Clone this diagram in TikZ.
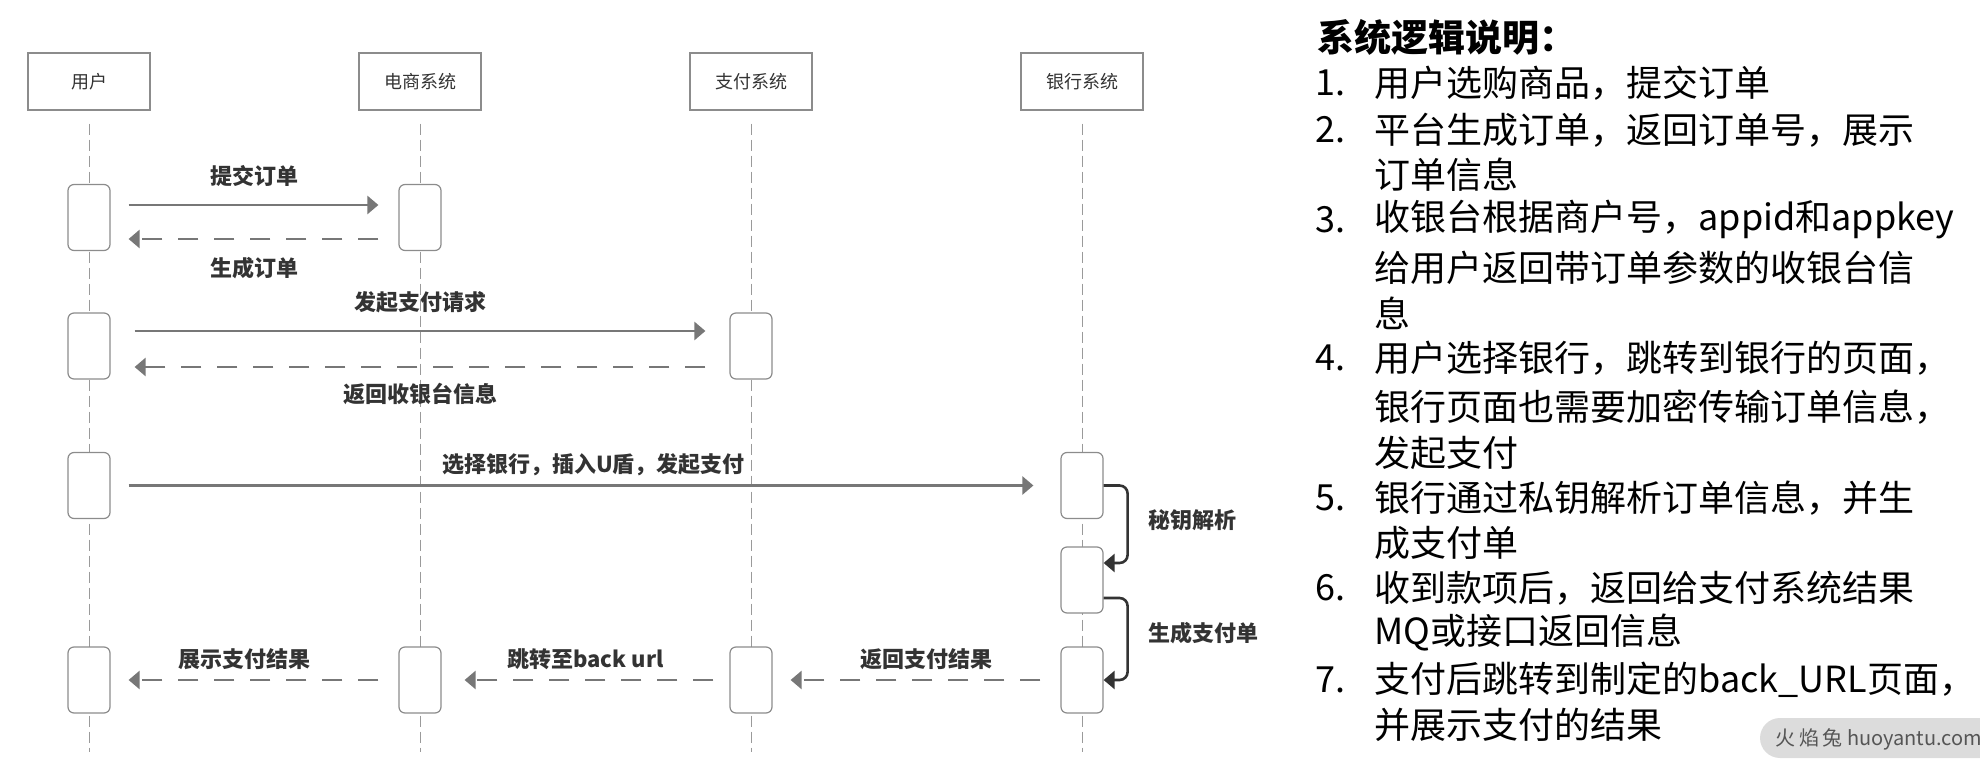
\documentclass[tikz,border=0pt]{standalone}
\usepackage{fontspec}
\setmainfont{Noto Sans CJK SC}
\usetikzlibrary{arrows.meta}

\definecolor{boxgray}{HTML}{8C8C8C}
\definecolor{linegray}{HTML}{777777}
\definecolor{lifegray}{HTML}{9A9A9A}
\definecolor{textdark}{HTML}{333333}
\definecolor{wmfill}{HTML}{DCDCDC}
\definecolor{wmtext}{HTML}{555555}

\begin{document}
\begin{tikzpicture}[x=0.5pt,y=-0.5pt,>={Triangle[length=5.5pt,width=9pt]},
        actor/.style={draw=boxgray,line width=0.7pt,minimum width=61pt,minimum height=28.5pt,
                inner sep=0pt,text=textdark,font=\fontsize{9}{11}\selectfont},
        act/.style={draw=boxgray,line width=0.6pt,fill=white,rounded corners=3pt,
                minimum width=21pt,minimum height=33pt,inner sep=0pt},
        life/.style={lifegray,line width=0.5pt,dash pattern=on 5.5pt off 2.5pt},
        msg/.style={->,linegray,line width=1.25pt,shorten <=9pt,shorten >=10pt},
        ret/.style={->,linegray,line width=1.25pt,shorten <=10pt,shorten >=9pt,
                dash pattern=on 10pt off 8pt},
        selfmsg/.style={->,textdark,line width=1.3pt,rounded corners=4pt},
        lbl/.style={inner sep=0pt,text=textdark,font=\fontsize{11}{13}\selectfont\bfseries},
        note/.style={anchor=west,inner sep=0pt,font=\fontsize{18}{22}\selectfont}]
        \useasboundingbox (0,0) rectangle (1980,774);

        % the four participants
        \node[actor] (user) at (89,81.5) {用户};
        \node[actor] (shop) at (420,81.5) {电商系统};
        \node[actor] (pay) at (751,81.5) {支付系统};
        \node[actor] (bank) at (1082,81.5) {银行系统};

        % lifelines
        \coordinate (bottom) at (0,752);
        \foreach \p in {user,shop,pay,bank}
                \draw[life] ([yshift=-6.5pt]\p.south) -- (\p.south |- bottom);

        % activation boxes
        \foreach \n/\x/\y in {u1/89/217.5, s1/420/217.5,
                              u2/89/346, p2/751/346,
                              u3/89/485.5, b3/1082/485.5, b3b/1082/580,
                              u4/89/680, s4/420/680, p4/751/680, b4/1082/680}
                \node[act] (\n) at (\x,\y) {};

        % messages
        \draw[msg] ([yshift=6.25pt]u1.east) -- ([yshift=6.25pt]s1.west)
                node[lbl,midway,above=8.5pt] (m1) {提交订单};
        \draw[ret] ([yshift=-10.75pt]s1.west) -- ([yshift=-10.75pt]u1.east)
                node[lbl,midway,below=8.5pt] (m2) {生成订单};
        \draw[msg,shorten <=12pt,shorten >=12pt] ([yshift=7.5pt]u2.east) -- ([yshift=7.5pt]p2.west)
                node[lbl,midway,above=8.5pt] (m3) {发起支付请求};
        \draw[ret,shorten <=12pt,shorten >=12pt] ([yshift=-10.5pt]p2.west) -- ([yshift=-10.5pt]u2.east)
                node[lbl,midway,below=7.5pt] (m4) {返回收银台信息};
        \draw[msg,shorten >=13.5pt] (u3.east) -- (b3.west)
                node[lbl,midway,above=4pt,xshift=4pt] (m5) {选择银行，插入U盾，发起支付};

        % bank works on its own
        \draw[selfmsg] (b3.east) -- ++(12pt,0) |- ([yshift=8.5pt]b3b.east);
        \node[lbl,anchor=west] (key) at (1148,520) {秘钥解析};
        \draw[selfmsg] ([yshift=-9pt]b3b.east) -- ++(12pt,0) |- (b4.east);
        \node[lbl,anchor=west] (bill) at (1148,633) {生成支付单};

        % results go back
        \draw[ret] (b4.west) -- (p4.east)
                node[lbl,midway,above=4.5pt,xshift=5pt] (m6) {返回支付结果};
        \draw[ret,shorten <=8pt,shorten >=11.5pt] (p4.west) -- (s4.east)
                node[lbl,midway,above=4.5pt] (m7) {跳转至back url};
        \draw[ret] (s4.west) -- (u4.east)
                node[lbl,midway,above=4.5pt,xshift=-5pt] (m8) {展示支付结果};

        % the notes on the right
        \node[note,font=\fontsize{18.5}{22}\selectfont\bfseries] (title) at (1317,37) {系统逻辑说明：};
        \foreach \n/\y in {1/83,2/130,3/220,4/358,5/498,6/588,7/680}
                \node[note] (num\n) at (1315,\y) {\n.};
        \foreach \i/\y/\txt in {
            a/83/用户选购商品，提交订单,
            b/130/平台生成订单，返回订单号，展示,
            c/175/订单信息,
            d/220/收银台根据商户号，appid和appkey,
            e/268/给用户返回带订单参数的收银台信,
            f/313/息,
            g/358/用户选择银行，跳转到银行的页面，,
            h/407/银行页面也需要加密传输订单信息，,
            i/453/发起支付,
            j/498/银行通过私钥解析订单信息，并生,
            k/543/成支付单,
            l/588/收到款项后，返回给支付系统结果,
            m/633/MQ或接口返回信息,
            n/680/支付后跳转到制定的back\_URL页面，,
            o/725/并展示支付的结果}
                \node[note] (line\i) at (1374,\y) {\txt};

        % watermark
        \fill[wmfill,rounded corners=10pt] (1760,718) rectangle (2020,758);
        \node[inner sep=0pt,text=wmtext,font=\fontsize{10}{11}\selectfont] (wm) at (1879,739) {火\,焰\,兔\ huoyantu.com};
\end{tikzpicture}
\end{document}
